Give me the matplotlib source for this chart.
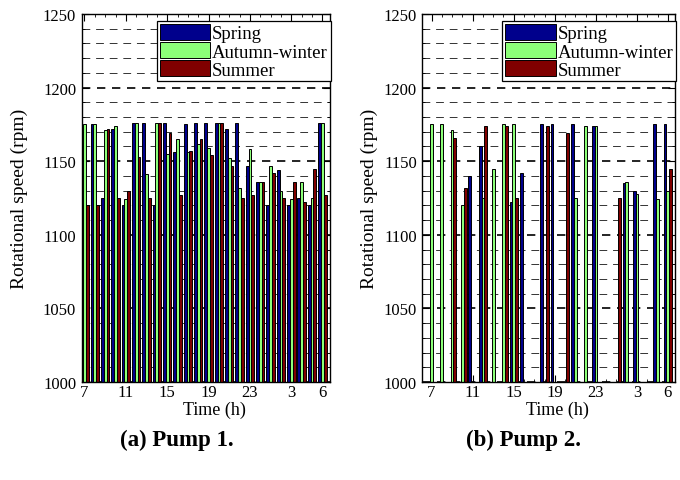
import numpy as np
import matplotlib.pyplot as plt
from matplotlib.ticker import MultipleLocator

plt.rcParams['font.family'] = ['Liberation Serif', 'DejaVu Serif']

# hours of the day, 7 h to 6 h of the next day
hours = [7, 8, 9, 10, 11, 12, 13, 14, 15, 16, 17, 18, 19, 20, 21, 22, 23, 0, 1, 2, 3, 4, 5, 6]
tick_hours = ['7', '11', '15', '19', '23', '3', '6']
seasons = ['Spring', 'Autumn-winter', 'Summer']
colors = ['#00008c', '#8cff78', '#800000']

# Pump 1 rotational speed (rpm)
p1_spring = [1120, 1175, 1125, 1172, 1120, 1176, 1176, 1120, 1176, 1156, 1175, 1176,
             1176, 1176, 1172, 1176, 1147, 1136, 1120, 1144, 1120, 1125, 1120, 1176]
p1_autumn = [1175, 1175, 1171, 1174, 1124, 1176, 1141, 1176, 1155, 1165, 1156, 1162,
             1159, 1176, 1152, 1132, 1158, 1136, 1147, 1130, 1124, 1136, 1125, 1176]
p1_summer = [1120, 1120, 1172, 1125, 1130, 1153, 1125, 1176, 1169, 1127, 1157, 1165,
             1154, 1176, 1147, 1125, 1127, 1136, 1142, 1125, 1136, 1122, 1145, 1127]

# Pump 2 rotational speed (rpm), 0 = pump off
p2_spring = [0, 0, 0, 0, 1140, 1160, 0, 0, 1122, 1142, 0, 1175,
             1175, 0, 1175, 0, 1174, 0, 0, 1135, 1130, 0, 1175, 1175]
p2_autumn = [1175, 1175, 1171, 1120, 0, 1125, 1145, 1175, 1175, 0, 0, 0,
             0, 0, 1125, 1174, 1174, 0, 0, 1136, 1128, 0, 1124, 1130]
p2_summer = [0, 0, 1166, 1132, 0, 1174, 0, 1174, 1125, 0, 0, 1174,
             0, 1169, 0, 0, 0, 0, 1125, 0, 0, 0, 0, 1145]

fig = plt.figure(figsize=(6.8, 4.81), dpi=100)
ax1 = fig.add_axes([81.7 / 680, 1 - 383 / 481, 248.3 / 680, 368 / 481])
ax2 = fig.add_axes([422.3 / 680, 1 - 383 / 481, 253 / 680, 368 / 481])

x = np.arange(1, len(hours) + 1)
w = 0.27
tick_pos = [1, 5, 9, 13, 17, 21, 24]


def draw(ax, data, xlim, ylab_x):
    ax.set_axisbelow(True)
    for i, (vals, c, lab) in enumerate(zip(data, colors, seasons)):
        ax.bar(x + (i - 1) * w, vals, w, color=c, edgecolor='black', linewidth=0.7, label=lab)
    ax.set_xlim(*xlim)
    ax.set_ylim(1000, 1250)
    ax.set_xticks(tick_pos)
    ax.set_xticklabels(tick_hours)
    ax.xaxis.set_minor_locator(MultipleLocator(1))
    ax.yaxis.set_major_locator(MultipleLocator(50))
    ax.yaxis.set_minor_locator(MultipleLocator(10))
    ax.tick_params(which='both', direction='in', top=True, right=True, labelsize=12)
    ax.tick_params(which='major', length=5, width=0.8)
    ax.tick_params(which='minor', length=2.5, width=0.6)
    ax.tick_params(axis='x', pad=1.5)
    ax.tick_params(axis='y', pad=4)
    ax.yaxis.grid(True, which='major', color='black', linestyle=(0, (5, 4)), linewidth=1.2)
    ax.yaxis.grid(True, which='minor', color='0.2', linestyle=(0, (8, 6)), linewidth=0.7)
    for s in ax.spines.values():
        s.set_linewidth(1.0)
    ax.set_ylabel('Rotational speed (rpm)', fontsize=14)
    ax.yaxis.set_label_coords(ylab_x, 0.5)
    ax.set_xlabel('Time (h)', fontsize=13)
    ax.xaxis.set_label_coords(0.535, -0.05)
    leg = ax.legend(loc='upper right', bbox_to_anchor=(1.003, 1 - 7 / 368), borderaxespad=0,
                    fontsize=13.5, handlelength=2.7, handleheight=0.95, handletextpad=0.1,
                    labelspacing=-0.02, borderpad=0.15, fancybox=False, framealpha=1)
    leg.get_frame().set_edgecolor('black')
    leg.get_frame().set_linewidth(0.9)


draw(ax1, [p1_spring, p1_autumn, p1_summer], (0.73, 24.74), -0.216)
draw(ax2, [p2_spring, p2_autumn, p2_summer], (0.1, 24.73), -0.175)

fig.text(177 / 680, 1 - 440 / 481, '(a) Pump 1.', ha='center', va='center',
         fontsize=16.5, fontweight='bold')
fig.text(523 / 680, 1 - 440 / 481, '(b) Pump 2.', ha='center', va='center',
         fontsize=16.5, fontweight='bold')

fig.savefig('out.png', dpi=100)
